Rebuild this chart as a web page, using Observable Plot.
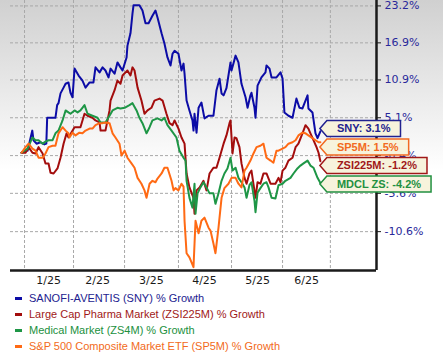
<!DOCTYPE html>
<html><head><meta charset="utf-8">
<script src="https://cdn.jsdelivr.net/npm/d3@7"></script>
<script src="https://cdn.jsdelivr.net/npm/@observablehq/plot@0.6"></script>
<style>
html,body{margin:0;padding:0;}
body{width:443px;height:353px;overflow:hidden;background:linear-gradient(to bottom,#d0d0d0 0px,#ffffff 170px);font-family:"Liberation Sans",Arial,sans-serif;}
#chart svg{display:block;}
.row{height:16px;line-height:16px;font-size:11px;position:relative;padding-left:29px;white-space:nowrap;}
.row .sw{position:absolute;left:15px;top:7px;width:7px;height:2.5px;}
</style></head><body>
<div id="chart"></div>
<div id="legend"></div>
<script>
// day 0 = 2025-01-01; values are % growth since start
const sny = [[-1.8,0],[1.8,0.3],[4.6,3.2],[5.3,1.8],[7.1,1.3],[9.5,1.5],[11.8,1.2],[12.9,1.3],[13.4,5.1],[15.4,5.1],[18.3,5.1],[19.3,7.0],[20.1,7.3],[21.3,8.8],[23.1,9.7],[24.3,10.3],[26.0,10.5],[27.2,8.9],[28.4,8.2],[29.6,12.7],[32.0,11.6],[34.3,10.8],[36.1,9.7],[38.5,10.5],[40.8,10.5],[42.0,12.9],[44.4,12.1],[46.2,12.9],[47.9,12.4],[49.7,11.3],[50.9,12.7],[53.3,11.9],[55.0,13.7],[56.8,12.9],[58.0,12.4],[60.4,14.5],[60.9,16.4],[62.7,18.5],[63.9,21.9],[64.5,23.3],[68.0,23.3],[69.8,22.4],[71.6,20.2],[73.4,20.2],[75.7,21.5],[77.5,22.4],[78.7,21.2],[81.1,18.5],[82.8,16.8],[84.6,14.5],[86.4,13.2],[87.6,15.1],[88.8,15.6],[91.1,15.1],[92.9,12.4],[94.1,13.5],[94.7,11.9],[95.9,7.7],[97.6,6.2],[99.4,4.7],[100.0,3.2],[100.6,5.7],[101.8,2.9],[103.0,6.6],[104.7,7.4],[106.5,5.0],[108.9,5.4],[111.8,5.4],[113.6,9.3],[115.4,11.1],[116.6,8.8],[117.8,8.5],[119.5,9.6],[121.9,13.7],[122.5,12.4],[124.9,14.8],[126.6,13.7],[128.4,10.3],[130.8,8.2],[132.0,6.6],[133.7,8.5],[134.3,8.9],[136.1,6.6],[136.7,5.1],[137.9,10.0],[140.2,11.3],[142.6,12.1],[143.2,13.2],[145.0,12.7],[146.2,11.3],[149.1,11.3],[151.5,12.1],[152.7,11.1],[153.8,5.9],[156.2,5.4],[158.6,5.1],[160.9,8.0],[162.7,6.6],[164.5,6.5],[165.7,7.3],[167.5,8.5],[168.0,6.5],[170.4,5.9],[172.2,2.8],[173.4,2.1],[175.1,3.1]];
const zsi225m = [[-1.8,0],[0.6,0.0],[2.4,0.8],[4.7,0.0],[6.5,-0.1],[8.3,0.8],[10.7,-0.1],[12.4,-1.5],[14.2,-1.5],[15.4,-2.8],[17.2,-2.9],[19.5,-2.2],[21.3,-0.7],[23.1,1.3],[24.9,2.8],[26.0,2.2],[29.6,3.7],[33.1,3.7],[35.5,5.7],[37.3,5.4],[40.2,5.1],[42.0,4.7],[44.4,4.4],[45.0,3.2],[47.9,3.2],[50.3,6.2],[50.9,7.7],[53.3,9.3],[55.0,10.8],[56.8,10.3],[58.0,11.6],[59.8,12.1],[60.9,12.4],[62.7,11.6],[63.9,12.9],[65.1,12.4],[66.9,9.7],[69.2,7.7],[71.0,5.7],[72.8,6.2],[75.1,6.6],[76.9,7.7],[79.9,8.0],[81.7,7.7],[84.0,5.7],[85.8,4.3],[87.6,4.0],[88.8,4.7],[91.1,3.5],[92.9,2.2],[94.7,1.3],[95.9,-2.9],[97.6,-4.8],[100.0,-6.2],[100.6,-8.3],[101.8,-5.2],[103.6,-4.8],[105.9,-3.9],[107.7,-5.2],[109.5,-2.9],[111.8,-2.1],[113.6,-2.1],[115.4,-0.7],[117.8,1.3],[119.5,2.5],[121.3,4.3],[121.9,4.7],[123.1,-0.1],[124.3,2.2],[125.4,2.1],[127.2,0.8],[128.4,-1.5],[130.2,-3.5],[131.4,-4.3],[133.1,-2.9],[134.3,-2.5],[136.7,-6.2],[137.9,-4.1],[139.6,-4.3],[141.4,-2.9],[143.2,-2.9],[145.6,-4.3],[148.5,-4.3],[150.3,-3.5],[151.5,-4.1],[152.7,-2.5],[154.4,-2.1],[156.2,-1.1],[158.6,-0.7],[160.4,0.8],[162.1,1.3],[164.5,2.8],[166.3,4.0],[168.0,3.5],[169.2,2.8],[171.0,1.8],[172.8,0.8],[174.0,0.0],[175.1,-1.2]];
const zs4m = [[-1.8,0],[1.8,0.6],[4.7,2.2],[6.5,1.8],[8.3,1.8],[10.7,1.3],[12.4,1.6],[14.2,1.8],[16.6,1.8],[18.3,2.8],[20.1,3.2],[22.5,4.7],[24.3,6.2],[26.0,5.9],[27.2,5.7],[29.6,6.2],[31.4,5.9],[33.1,6.2],[35.5,7.0],[37.3,5.7],[40.2,5.4],[43.2,5.1],[45.0,4.4],[47.9,4.4],[50.3,5.4],[52.1,6.2],[55.0,6.6],[56.8,6.5],[59.2,6.6],[62.1,7.0],[63.9,7.3],[66.3,6.2],[68.0,5.1],[69.8,4.3],[72.2,2.8],[74.0,3.7],[75.7,4.7],[78.7,5.0],[81.1,4.7],[82.8,5.1],[84.6,4.0],[87.0,3.2],[89.9,2.2],[91.7,0.3],[94.1,-0.7],[95.3,-1.1],[95.9,-3.9],[97.6,-6.2],[99.4,-7.5],[100.6,-4.3],[101.2,-8.3],[102.4,-5.6],[104.1,-4.8],[105.9,-4.1],[107.7,-4.8],[109.5,-5.6],[111.8,-5.6],[113.0,-7.0],[114.8,-5.6],[116.6,-3.9],[118.3,-2.9],[120.1,-2.2],[121.9,-0.7],[123.1,-2.5],[124.9,-2.1],[126.6,-3.5],[128.4,-4.1],[130.2,-4.8],[131.4,-6.2],[133.1,-4.5],[134.3,-4.1],[136.1,-6.6],[136.7,-8.1],[137.9,-5.5],[139.6,-4.9],[141.4,-4.3],[143.2,-4.1],[144.4,-4.8],[146.2,-6.2],[148.5,-6.3],[150.3,-4.5],[152.7,-4.3],[154.4,-3.9],[157.4,-3.5],[159.2,-2.9],[161.5,-2.2],[163.3,-1.8],[165.1,-1.5],[167.5,-1.1],[169.2,-1.8],[171.0,-2.1],[173.4,-3.5],[175.1,-4.2]];
const sp5m = [[-1.8,0],[0.6,0.8],[2.4,1.3],[4.7,0.6],[6.5,0.3],[8.3,-0.7],[10.7,-0.7],[12.4,-0.1],[14.2,0.8],[16.6,1.0],[18.3,1.0],[20.1,2.8],[22.5,3.7],[24.3,3.2],[26.0,2.8],[26.6,2.2],[28.4,2.9],[30.2,2.5],[32.5,2.9],[34.3,2.8],[36.1,3.2],[38.5,3.5],[40.2,3.5],[42.0,4.0],[44.4,4.3],[46.2,4.3],[47.9,4.4],[50.3,4.3],[52.1,2.8],[53.8,2.2],[56.2,1.3],[57.4,-0.4],[59.2,0.3],[60.9,-0.7],[63.3,-1.5],[65.1,-2.1],[66.9,-3.5],[69.2,-4.3],[71.0,-5.2],[72.2,-6.2],[74.0,-4.3],[75.7,-3.9],[77.5,-4.1],[78.7,-3.6],[81.1,-2.9],[82.8,-2.1],[84.6,-2.1],[87.0,-3.9],[88.2,-5.2],[89.3,-4.9],[91.1,-5.2],[92.9,-4.3],[94.1,-4.7],[94.7,-9.2],[95.9,-13.3],[97.6,-13.8],[100.0,-15.0],[101.2,-9.2],[103.0,-10.8],[104.7,-9.2],[106.5,-8.8],[108.9,-10.1],[110.1,-10.5],[111.8,-12.1],[113.0,-13.3],[114.8,-10.1],[116.6,-6.2],[118.3,-4.9],[120.7,-4.3],[122.5,-3.5],[124.9,-3.5],[126.6,-4.3],[128.4,-4.8],[130.2,-2.5],[131.4,-2.1],[133.7,-1.1],[135.5,-0.1],[137.3,0.8],[139.6,1.0],[141.4,1.3],[143.2,-0.7],[145.6,-1.1],[147.3,-1.4],[149.1,0.3],[150.3,0.3],[152.7,0.6],[154.4,0.8],[156.2,1.3],[158.6,1.5],[160.4,1.8],[162.1,2.5],[164.5,2.9],[166.3,2.8],[168.0,2.5],[170.4,2.1],[172.2,1.8],[174.0,1.5],[175.1,1.5]];

const seriesNames = ["SANOFI-AVENTIS (SNY) % Growth","Large Cap Pharma Market (ZSI225M) % Growth","Medical Market (ZS4M) % Growth","S&P 500 Composite Market ETF (SP5M) % Growth"];
const endLabels = ["SNY","ZSI225M","MDCL ZS","SP5M"];
const lineColors = ["#0c0ca6","#a30d0d","#1e9646","#ff6a14"];
const textColors = ["#22228f","#a01818","#229040","#f26a21"];
const seriesData = [sny, zsi225m, zs4m, sp5m];

const yTickLabels = [23.2, 16.9, 10.9, 5.1, -0.4, -5.6, -10.6];
const monthLabels = ["1/25","2/25","3/25","4/25","5/25","6/25"];
const labelDays = [14.2, 43.2, 75.1, 106.5, 137.9, 166.9];
const gridDays = [0, 29, 59.2, 91.1, 122.5, 152.7, 181];
const xDomain = [-8.3, 208.3];
const yDomain = [0.846, 1.2415]; // growth ratio (1 + %/100), log scale

const ratio = v => 1 + v / 100;
const series = seriesData.map((data, i) => ({data, name: seriesNames[i], label: endLabels[i], color: lineColors[i], text: textColors[i]}));

const chart = Plot.plot({
  width: 443, height: 290,
  marginLeft: 10, marginRight: 67, marginTop: 0, marginBottom: 20,
  style: {background: "transparent", fontFamily: "'DejaVu Sans', Verdana, sans-serif", fontSize: "11px", overflow: "visible"},
  x: {type: "linear", domain: xDomain},
  y: {type: "log", domain: yDomain},
  marks: [
    Plot.gridY(yTickLabels.map(ratio), {stroke: "#a8a8a8", strokeOpacity: 1, strokeDasharray: "3,2"}),
    Plot.gridX(gridDays, {stroke: "#a8a8a8", strokeOpacity: 1, strokeDasharray: "3,2"}),
    ...series.map(s => Plot.line(s.data, {x: d => d[0], y: d => ratio(d[1]), stroke: s.color, strokeWidth: 2})),
    Plot.ruleY([yDomain[0]], {stroke: "#1a1a1a", strokeWidth: 2.5}),
    Plot.ruleX([xDomain[1]], {stroke: "#1a1a1a", strokeWidth: 2.5}),
    Plot.axisY(yTickLabels.map(ratio), {anchor: "right", tickSize: 4, tickPadding: 4, stroke: "#1a1a1a", fill: "#28289a",
      tickFormat: d => ((d - 1) * 100).toFixed(1) + "%"}),
    Plot.axisX(labelDays, {anchor: "bottom", tickSize: 0, tickPadding: 6, fill: "#1a1a1a",
      tickFormat: d => monthLabels[labelDays.indexOf(d)]})
  ]
});
document.getElementById("chart").appendChild(chart);

// end-of-line callout labels
const xs = chart.scale("x"), ys = chart.scale("y");
const ends = series.map(s => {
  const last = s.data[s.data.length - 1];
  return {s, x: xs.apply(last[0]), y: ys.apply(ratio(last[1])), v: last[1]};
}).sort((a, b) => a.y - b.y);
const gap = 18.5;
let prev = -Infinity;
ends.forEach(e => { e.cy = Math.max(e.y, prev + gap); prev = e.cy; });
const shift = -(d3.mean(ends, e => e.cy) - d3.mean(ends, e => e.y)) / 2;
ends.forEach(e => e.cy += shift);

const g = d3.select(chart).append("g");
ends.forEach(e => {
  const tipX = e.x, bodyL = tipX + 7, pad = 10, h = 16;
  const t = g.append("text")
    .attr("x", bodyL + pad).attr("y", e.cy).attr("dy", "0.36em")
    .attr("text-anchor", "start")
    .style("font", "bold 11px 'Liberation Sans', Arial, sans-serif")
    .attr("fill", e.s.text)
    .text(`${e.s.label}: ${e.v.toFixed(1)}%`);
  const w = t.node().getComputedTextLength();
  const right = bodyL + pad + w + pad;
  g.insert("path", "text")
    .attr("d", `M${tipX},${e.cy}L${bodyL},${e.cy - h / 2}L${right},${e.cy - h / 2}L${right},${e.cy + h / 2}L${bodyL},${e.cy + h / 2}Z`)
    .attr("fill", "#f7f3dc").attr("stroke", e.s.text).attr("stroke-width", 1.5);
});
g.selectAll("text").raise();

// legend
const legend = d3.select("#legend");
series.forEach(s => {
  const row = legend.append("div").attr("class", "row").style("color", s.text);
  row.append("span").attr("class", "sw").style("background", s.color);
  row.append("span").text(s.name);
});
</script></body></html>
